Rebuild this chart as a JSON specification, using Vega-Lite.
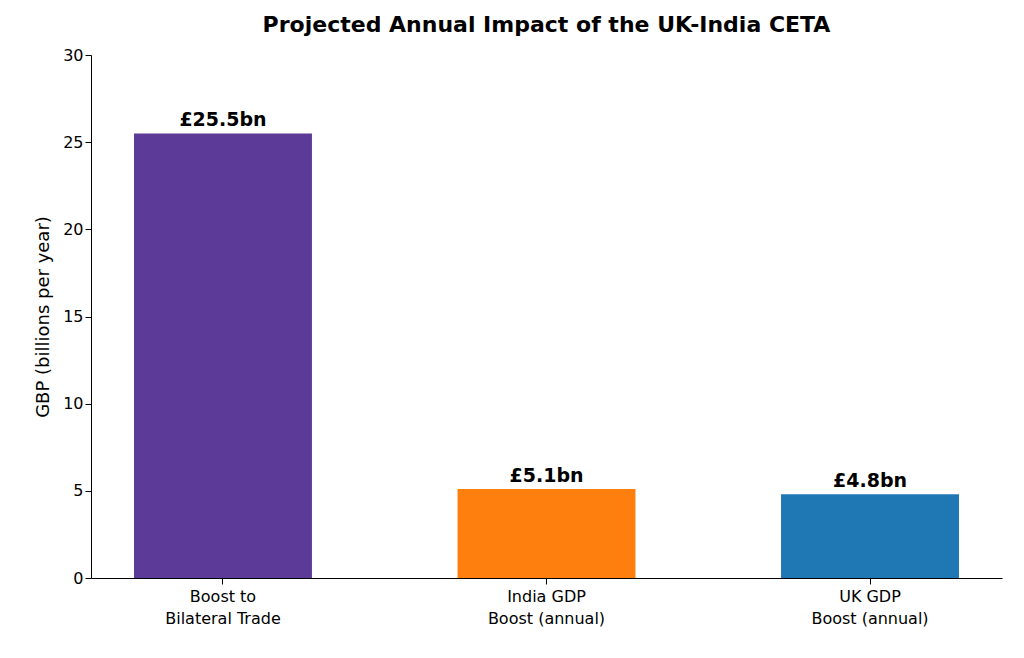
{
  "$schema": "https://vega.github.io/schema/vega-lite/v6.json",
  "width": 911,
  "height": 523,
  "autosize": {"type": "none"},
  "padding": {"left": 91, "top": 55, "right": 22, "bottom": 80},
  "title": {"text": "Projected Annual Impact of the UK-India CETA", "font": "DejaVu Sans", "fontSize": 22, "fontWeight": "bold", "color": "black", "offset": 10},
  "config": {"view": {"stroke": null}, "font": "DejaVu Sans"},
  "data": {
    "values": [
      {"category": "Boost to|Bilateral Trade", "value": 25.5, "label": "£25.5bn", "color": "#5c3a97"},
      {"category": "India GDP|Boost (annual)", "value": 5.1, "label": "£5.1bn", "color": "#ff7f0e"},
      {"category": "UK GDP|Boost (annual)", "value": 4.8, "label": "£4.8bn", "color": "#1f77b4"}
    ]
  },
  "encoding": {
    "x": {
      "field": "category", "type": "nominal", "sort": null, "title": null,
      "scale": {"paddingInner": 0.45, "paddingOuter": 0.133},
      "axis": {"labelAngle": 0, "labelExpr": "split(datum.label, '|')", "labelFontSize": 16, "labelColor": "black", "domainColor": "black", "tickColor": "black", "tickSize": 6, "labelLineHeight": 22, "labelPadding": 4}
    },
    "y": {
      "field": "value", "type": "quantitative", "title": "GBP (billions per year)",
      "scale": {"domain": [0, 30]},
      "axis": {"values": [0, 5, 10, 15, 20, 25, 30], "grid": false, "titleFontSize": 18, "titleFontWeight": "normal", "titleColor": "black", "labelFontSize": 16, "labelColor": "black", "domainColor": "black", "tickColor": "black", "tickSize": 6, "titlePadding": 10}
    }
  },
  "layer": [
    {"mark": "bar", "encoding": {"color": {"field": "color", "type": "nominal", "scale": null}}},
    {"mark": {"type": "text", "baseline": "bottom", "dy": -3, "fontSize": 19, "fontWeight": "bold", "color": "black"}, "encoding": {"text": {"field": "label"}}}
  ]
}
